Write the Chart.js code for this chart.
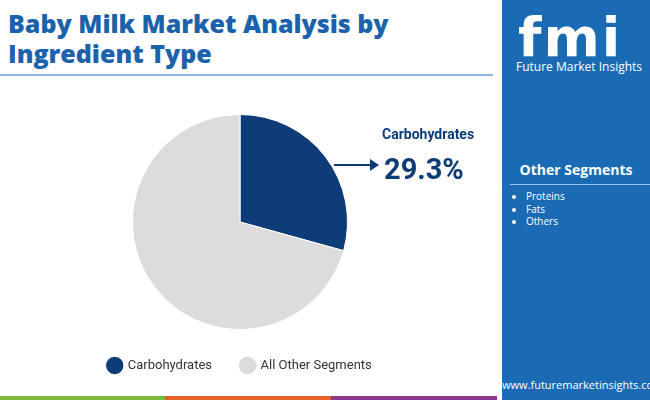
<!DOCTYPE html>
<html>
<head>
<meta charset="utf-8">
<script src="https://cdn.jsdelivr.net/npm/chart.js@4"></script>
<style>
  body { margin:0; width:650px; height:400px; background:#fff; font-family:Poppins, "Open Sans", sans-serif; position:relative; overflow:hidden; }
  .title { position:absolute; left:8px; top:8px; font:800 25px "Open Sans", sans-serif; color:#1b62ad; line-height:30px; }
  .rule { position:absolute; left:0; top:74px; width:493px; height:2px; background:#8fb6dc; }
  .panel { position:absolute; left:502px; top:0; width:148px; height:400px; background:#1a6bb3; color:#fff; }
  .logo { position:absolute; left:16px; top:6px; font:900 54px "DejaVu Sans", sans-serif; letter-spacing:2px; color:#fff; }
  .logosub { position:absolute; left:14px; top:58px; font:12px "Open Sans", sans-serif; }
  .seg { position:absolute; left:0; width:148px; text-align:center; top:160px; font:700 14px "Open Sans", sans-serif; }
  .segrule { position:absolute; left:8px; top:184px; width:140px; height:1px; background:#9cc3e8; }
  .list { position:absolute; left:10px; top:190px; font:10px "Open Sans", sans-serif; margin:0; padding-left:14px; line-height:12.5px; }
  .url { position:absolute; left:0; top:377px; font:11px "Open Sans", sans-serif; width:148px; text-align:center; }
  .bar { position:absolute; top:396px; height:4px; }
  #wrap { position:absolute; left:0; top:114px; width:480px; height:268px; }
  .lab { position:absolute; left:382px; top:126px; font:700 14px Roboto, sans-serif; color:#0d3c78; }
  .pct { position:absolute; left:384px; top:152px; font:700 29px Roboto, sans-serif; color:#0d3c78; }
  .arrow { position:absolute; left:334px; top:164px; width:38px; height:2px; background:#0d3c78; }
  .head { position:absolute; left:370px; top:159px; width:0; height:0; border-left:9px solid #0d3c78; border-top:6px solid transparent; border-bottom:6px solid transparent; }
</style>
</head>
<body>
<div class="title">Baby Milk Market Analysis by<br>Ingredient Type</div>
<div class="rule"></div>
<div class="panel">
  <div class="logo">fmi</div>
  <div class="logosub">Future Market Insights</div>
  <div class="seg">Other Segments</div>
  <div class="segrule"></div>
  <ul class="list"><li>Proteins</li><li>Fats</li><li>Others</li></ul>
  <div class="url">www.futuremarketinsights.com</div>
</div>
<div class="bar" style="left:0;width:165px;background:#7dba3c"></div>
<div class="bar" style="left:165px;width:166px;background:#e8602c"></div>
<div class="bar" style="left:331px;width:166px;background:#8b3a8f"></div>
<div id="wrap"><canvas id="pie"></canvas></div>
<div class="lab">Carbohydrates</div>
<div class="pct">29.3%</div>
<div class="arrow"></div><div class="head"></div>
<script>
var segmentos = ['Carbohydrates', 'All Other Segments'];
var valores = [29.3, 70.7];
var colores = ['#0d3c78', '#dcdcdc'];

new Chart(document.getElementById('pie').getContext('2d'), {
    type: 'pie',
    data: {
        labels: segmentos,
        datasets: [{
            data: valores,
            backgroundColor: colores,
            borderColor: '#fff',
            borderWidth: 1
        }]
    },
    options: {
        responsive: true,
        maintainAspectRatio: false,
        animation: false,
        layout: { padding: 0 },
        plugins: {
            tooltip: { enabled: false },
            legend: {
                position: 'bottom',
                labels: {
                    usePointStyle: true,
                    pointStyle: 'circle',
                    boxWidth: 16,
                    boxHeight: 16,
                    padding: 29,
                    color: '#333',
                    font: { family: 'Roboto', size: 13 }
                }
            }
        }
    }
});
</script>
</body>
</html>
